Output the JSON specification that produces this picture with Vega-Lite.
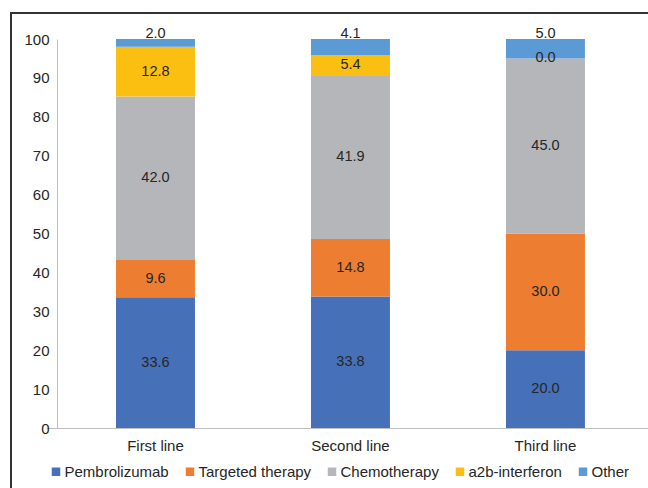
{
  "$schema": "https://vega.github.io/schema/vega-lite/v6.json",
  "autosize": "none",
  "width": 657,
  "height": 500,
  "padding": {"left": 11, "top": 13, "right": -20, "bottom": -25},
  "background": "white",
  "config": {
    "view": {"stroke": "#333333", "strokeWidth": 2},
    "font": "Liberation Sans",
    "axis": {"labelFont": "Liberation Sans", "labelColor": "#262626", "labelFontSize": 15, "ticks": false, "grid": false, "domainColor": "#bfbfbf", "title": null},
    "legend": {"labelFont": "Liberation Sans", "labelFontSize": 15, "labelColor": "#262626"}
  },
  "data": {
    "values": [
      {"line": "First line", "treatment": "Pembrolizumab", "value": 33.6},
      {"line": "First line", "treatment": "Targeted therapy", "value": 9.6},
      {"line": "First line", "treatment": "Chemotherapy", "value": 42.0},
      {"line": "First line", "treatment": "a2b-interferon", "value": 12.8},
      {"line": "First line", "treatment": "Other", "value": 2.0},
      {"line": "Second line", "treatment": "Pembrolizumab", "value": 33.8},
      {"line": "Second line", "treatment": "Targeted therapy", "value": 14.8},
      {"line": "Second line", "treatment": "Chemotherapy", "value": 41.9},
      {"line": "Second line", "treatment": "a2b-interferon", "value": 5.4},
      {"line": "Second line", "treatment": "Other", "value": 4.1},
      {"line": "Third line", "treatment": "Pembrolizumab", "value": 20.0},
      {"line": "Third line", "treatment": "Targeted therapy", "value": 30.0},
      {"line": "Third line", "treatment": "Chemotherapy", "value": 45.0},
      {"line": "Third line", "treatment": "a2b-interferon", "value": 0.0},
      {"line": "Third line", "treatment": "Other", "value": 5.0}
    ]
  },
  "transform": [
    {"calculate": "indexof(['Pembrolizumab','Targeted therapy','Chemotherapy','a2b-interferon','Other'], datum.treatment)", "as": "ord"},
    {"stack": "value", "groupby": ["line"], "sort": [{"field": "ord", "order": "ascending"}], "as": ["v0", "v1"]},
    {"calculate": "(datum.v0 + datum.v1) / 2", "as": "mid"}
  ],
  "encoding": {
    "x": {
      "field": "line", "type": "nominal", "sort": null,
      "scale": {"range": [35, 642], "paddingInner": 0.595, "paddingOuter": 0.354, "align": 0.507},
      "axis": {"labelAngle": 0, "labelPadding": 10, "offset": -85, "domainColor": "#bfbfbf"}
    }
  },
  "layer": [
    {
      "mark": {"type": "bar"},
      "encoding": {
        "y": {"field": "v1", "type": "quantitative", "scale": {"domain": [0, 100], "nice": false, "range": [415, 26]},
          "axis": {"values": [0,10,20,30,40,50,60,70,80,90,100], "labelOverlap": false, "labelPadding": 8, "offset": -46, "domainColor": "#bfbfbf"}},
        "y2": {"field": "v0"},
        "color": {
          "field": "treatment", "type": "nominal",
          "scale": {"domain": ["Pembrolizumab","Targeted therapy","Chemotherapy","a2b-interferon","Other"],
                    "range": ["#4670b8","#ed7d31","#b5b6ba","#fbbf12","#5b9bd5"]},
          "legend": {"title": null, "orient": "none", "direction": "horizontal", "legendX": 37.5, "legendY": 451,
                     "symbolType": "square", "symbolSize": 72, "symbolStrokeWidth": 0, "labelOffset": 1, "columnPadding": 13, "padding": 0}
        }
      }
    },
    {
      "transform": [{"filter": "datum.treatment != 'Other'"}],
      "mark": {"type": "text", "fontSize": 14.5, "color": "#262626", "baseline": "middle"},
      "encoding": {
        "y": {"field": "mid", "type": "quantitative",
          "axis": {"values": [0,10,20,30,40,50,60,70,80,90,100], "labelOverlap": false, "labelPadding": 8, "offset": -46, "domainColor": "#bfbfbf"}},
        "text": {"field": "value", "type": "quantitative", "format": ".1f"}
      }
    },
    {
      "transform": [{"filter": "datum.treatment == 'Other'"}],
      "mark": {"type": "text", "fontSize": 14.5, "color": "#262626", "baseline": "middle", "dy": -5},
      "encoding": {
        "y": {"field": "v1", "type": "quantitative",
          "axis": {"values": [0,10,20,30,40,50,60,70,80,90,100], "labelOverlap": false, "labelPadding": 8, "offset": -46, "domainColor": "#bfbfbf"}},
        "text": {"field": "value", "type": "quantitative", "format": ".1f"}
      }
    }
  ]
}
